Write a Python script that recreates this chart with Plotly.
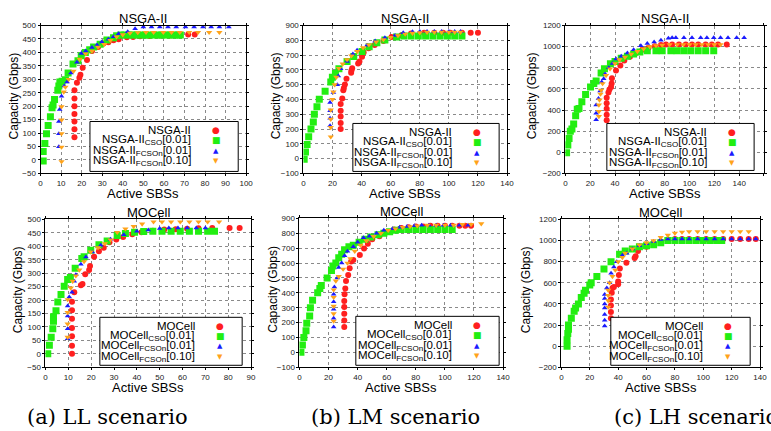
import plotly.graph_objects as go

# ---------------- data ----------------
# (a) LL scenario - NSGA-II
ll_n_red_x = [16.5,16.5,16.5,16.5,16.5,16.5,16.5,17.7,18.9,19.4,20.5,22.6,25,28,30.6,33,35.5,38,42,45,48.4,53,58,63,68,71.8,75]
ll_n_red_y = [84,114,143,171,200,229,259,287,306,317,343,372,405,420,433,438,445,449,456,457,460,461,463,463,465,467,467]
ll_n_grn_x = [1.3,1.3,2.1,2.9,3.7,4.8,5.6,6.1,6.8,8.4,8.9,9.4,10.5,12.1,13.4,15.8,18.2,19.8,21.8,23.9,25.8,29,32.3,35.5,37,39,41,43,45,47,49,51,53,55,57,59,61,63,65,67,68]
ll_n_grn_y = [-4,31,61,97,128,161,194,204,225,259,275,290,293,298,323,357,369,388,400,410,420,430,446,455,462,465,465,465,465,465,465,465,465,465,465,465,465,465,465,465,465]
ll_n_blu_x = [8.9,8.9,8.9,9.3,10.2,11.5,12.9,14.8,17.7,19.8,22,25,27.5,29.8,33,35.5,38,42.4,46,50,54,58,62,66,70.5,74.7,79,83,87,91.6]
ll_n_blu_y = [49,97,143,188,237,275,290,323,363,396,405,418,428,439,449,458,469,477,488,495,495,495,495,495,495,495,495,495,495,495]
ll_n_org_x = [10.2,10.2,10.2,10.2,10.2,11.3,12.1,13.7,16,19,22,25,28,31,34,37,40,43.5,47.3,51.3,55,59.7,63.7,67.7,72.3,76.6,82,87]
ll_n_org_y = [-6,48,98,149,198,253,271,300,330,375,395,405,420,430,445,458,466,472,474,475,475,475,475,475,475,475,475,475]

# (b) LM scenario - NSGA-II
lm_n_red_x = [25.6,25.6,25.6,25.6,25.6,26.7,27.4,27.8,28.5,29.6,32.8,33,33.5,37.6,38.5,40.3,41.4,44.8,49,55,60.6,67.4,74,83,90,96,101,109,115,120]
lm_n_red_y = [200,240,284,324,369,407,462,478,502,540,580,596,611,644,656,689,718,747,769,796,822,835,847,852,852,852,852,852,852,852]
lm_n_grn_x = [0.5,1.4,2.5,3.6,5.2,6.8,7.5,9.3,10.9,14.9,18.8,19.9,22,24.4,30,34.6,40.3,45.2,50.5,56,64,69,74,79,84,89,94,99,104,109]
lm_n_grn_y = [-5,44,96,147,200,247,300,351,402,456,518,551,575,607,656,691,724,756,784,802,822,830,830,830,830,830,830,830,830,830]
lm_n_blu_x = [18.3,18.3,18.3,18.3,20.6,23.3,24,25.6,30,34,36.9,43.7,49.3,56,63,68.6,75,80,85,90,95,100,104,108]
lm_n_blu_y = [222,273,324,380,447,500,558,607,656,707,733,767,796,818,833,851,858,860,860,860,860,860,860,860]
lm_n_org_x = [18.8,18.8,18.8,18.8,19.9,20.6,21.5,22.6,24.4,27,30,33,37,41,45,50,55,60,65,70,75,80,85,90,95,100,104,108]
lm_n_org_y = [147,211,267,329,400,451,500,551,611,640,670,695,725,750,770,790,805,820,832,842,848,852,855,855,855,855,855,855]

# (c) LH scenario - NSGA-II
lh_n_red_x = [33.3,33.3,33.3,33.3,33.3,34.7,35.5,36.8,37.3,37.5,40.8,44.3,47.5,52,57,62,67,72,77,81,86,91.5,97,102,107,113,118,123,130]
lh_n_red_y = [302,355,411,464,516,566,594,619,650,700,775,821,868,905,940,970,990,1005,1015,1020,1020,1020,1020,1020,1020,1020,1020,1020,1020]
lh_n_grn_x = [1,2,3,4,5.3,6.7,8.3,9.6,11,13.3,16.3,20.3,22.9,24.8,28.8,31.5,36.3,40,45,50,55,60,66,73,78,85,90,95.5,101,107,113,119.5]
lh_n_grn_y = [-5,68,131,199,221,268,345,408,415,479,548,619,650,675,750,790,837,860,890,910,930,950,961,961,961,961,961,961,961,961,961,961]
lh_n_blu_x = [24.8,24.8,24.8,26.7,28,29.3,30.9,32,35,38,40.8,45,50,55,60.8,66,71.5,77,83,86,89,95.5,102,109,114,119.5,125,131,138,144]
lh_n_blu_y = [308,370,448,510,580,666,697,740,800,840,884,910,940,970,1008,1030,1045,1060,1080,1085,1085,1085,1085,1085,1085,1085,1085,1085,1085,1085]
lh_n_org_x = [27,27,27,27.5,28.3,28.8,30,32.8,36,40,43.5,48,53,58,63,68,73,78,84,90,95,100,105,110,115,120,125]
lh_n_org_y = [339,386,448,495,551,588,650,728,790,840,877,900,930,955,980,1000,1010,1015,1020,1020,1020,1020,1020,1020,1020,1020,1020]

# (a) LL scenario - MOCell
ll_m_red_x = [11.6,11.6,11.6,11.6,11.6,11.6,11.6,12.6,15.5,16.2,17.4,19.1,19.5,21.3,23.4,25.5,28,31,34,38,42,47,52,57,62,67,73,80.6,85]
ll_m_red_y = [0,30,65,96,130,162,194,229,255,260,296,312,327,361,382,395,415,425,435,445,452,458,462,463,465,467,468,468,468]
ll_m_grn_x = [1,1.7,2.5,3.2,3.5,3.5,4.6,5.4,6.8,8.2,9.7,10.9,13,15.9,16.9,19.8,23.4,27,31.4,35,39,43,47,51,55,59,63,67,71,74]
ll_m_grn_y = [0,32,62,93,121,138,160,193,221,251,276,284,318,355,361,385,406,420,440,448,452,455,456,456,456,456,456,456,456,456]
ll_m_blu_x = [9.7,9.7,9.7,9.7,10.4,11.6,12.6,13.3,15.5,17.7,20.5,24.2,28.5,34.3,40,45,50,54,58,62,66,70]
ll_m_blu_y = [56,93,141,178,211,229,270,294,333,360,379,404,426,443,456,461,466,468,468,468,468,468]
ll_m_org_x = [9.7,9.7,9.7,9.7,11.1,11.9,13.3,14.8,16.9,19.8,23,26,28.5,31.4,35,38.6,42.3,47.3,51,55,59,63,67,71,76]
ll_m_org_y = [62,111,154,202,245,270,290,312,343,379,395,410,424,452,465,474,483,491,491,491,491,491,491,491,491]

# (b) LM scenario - MOCell
lm_m_red_x = [30.8,30.8,30.8,30.8,30.8,31,31.5,32,33.5,34.5,35.5,37,41.5,44.4,47,50,55,60,65,70,75,80,85,90,95,100,105,110,114,118]
lm_m_red_y = [170,215,260,305,345,390,430,480,520,565,610,620,654,698,730,760,780,810,825,835,840,845,845,850,850,850,850,850,850,850]
lm_m_grn_x = [1,2,3,4.5,5,7,7.5,9,12.5,14,15,19,22,23,25,27,29,31,34,37,41,45,49,54,58,62,66,70,75,80,85,90,95,100,105]
lm_m_grn_y = [0,50,100,145,195,245,300,350,400,430,450,500,550,580,600,635,660,690,710,720,740,760,775,790,800,810,820,825,825,825,825,825,825,825,825]
lm_m_blu_x = [23.5,23.5,23.5,23.5,23.5,24,26,27,29,31,33,37,40,44,48,53,58,64,69,74,79,84,89,94,99,104,110,116]
lm_m_blu_y = [170,230,290,340,390,440,500,570,600,650,680,710,740,770,780,800,820,830,840,845,850,855,855,855,855,855,855,855]
lm_m_org_x = [23.5,23.5,23.5,23.5,23.5,25,27,30,33,35,38,42,46,51,56,61,66,71,76,81,88,94,100,106,112,118,125]
lm_m_org_y = [210,260,310,370,420,480,510,560,600,630,680,720,750,780,800,820,830,840,845,850,855,855,855,855,860,860,865]

# (c) LH scenario - MOCell
lh_m_red_x = [34.9,34.9,34.9,34.9,35.5,36,37,40,40,40.5,41.2,45.8,51.6,52.3,54,60,65,70,75,80,85,90,96,102,108,114,120,126,132,137]
lh_m_red_y = [264,323,385,441,506,550,560,587,612,674,736,789,835,851,900,940,970,990,1010,1015,1015,1015,1015,1015,1015,1015,1015,1015,1015,1015]
lh_m_grn_x = [4,4,4.5,5,5,7,9,10,12,14,16,17,20,21,25,30,35,41,45,50,55,60,65,70,75,80,85,90,95,100,105,110,113]
lh_m_grn_y = [0,60,120,160,200,265,330,360,400,460,500,530,580,600,660,730,800,870,900,920,940,950,960,980,1000,1000,1000,1000,1000,1000,1000,1000,1000]
lh_m_blu_x = [30.5,30.5,30.5,30.5,30.5,30.5,30.5,32,34,35,37,39,43,46,50,55,60,65,70,75,80,85,90,96,102,108,114,120,126,132,137]
lh_m_blu_y = [190,245,300,360,400,450,490,550,600,690,750,800,860,880,920,950,970,990,1010,1015,1015,1015,1015,1015,1015,1015,1015,1015,1015,1015,1015]
lh_m_org_x = [33,33,33,33,34,36,38,40,43,45,50,55,60,65,70,75,80,85,90,96,102,108,114,120,126,132]
lh_m_org_y = [370,430,480,530,600,660,720,800,840,880,920,960,980,1000,1030,1050,1070,1080,1085,1085,1085,1085,1085,1085,1085,1085]

titles = ["NSGA-II", "NSGA-II", "NSGA-II", "MOCell", "MOCell", "MOCell"]
captions = ["(a) LL scenario", "(b) LM scenario", "(c) LH scenario"]
x_ranges = [(0, 100, 10), (0, 140, 20), (0, 160, 20), (0, 90, 10), (0, 140, 20), (0, 140, 20)]
y_ranges = [(-50, 500, 50), (-100, 900, 100), (-200, 1200, 200), (-50, 500, 50), (-100, 900, 100), (-200, 1200, 200)]

panel_data = [
    [(ll_n_red_x, ll_n_red_y), (ll_n_grn_x, ll_n_grn_y), (ll_n_blu_x, ll_n_blu_y), (ll_n_org_x, ll_n_org_y)],
    [(lm_n_red_x, lm_n_red_y), (lm_n_grn_x, lm_n_grn_y), (lm_n_blu_x, lm_n_blu_y), (lm_n_org_x, lm_n_org_y)],
    [(lh_n_red_x, lh_n_red_y), (lh_n_grn_x, lh_n_grn_y), (lh_n_blu_x, lh_n_blu_y), (lh_n_org_x, lh_n_org_y)],
    [(ll_m_red_x, ll_m_red_y), (ll_m_grn_x, ll_m_grn_y), (ll_m_blu_x, ll_m_blu_y), (ll_m_org_x, ll_m_org_y)],
    [(lm_m_red_x, lm_m_red_y), (lm_m_grn_x, lm_m_grn_y), (lm_m_blu_x, lm_m_blu_y), (lm_m_org_x, lm_m_org_y)],
    [(lh_m_red_x, lh_m_red_y), (lh_m_grn_x, lh_m_grn_y), (lh_m_blu_x, lh_m_blu_y), (lh_m_org_x, lh_m_org_y)],
]

# ---------------- styling / layout ----------------
W, H = 771, 431
def fx(p):
    return p / W
def fy(p):
    return 1 - p / H

# plot areas in pixels (left, right, top, bottom)
areas = [(39, 247, 22, 173), (305, 511, 22, 173), (570, 771, 22, 173),
         (44, 252, 220, 371), (301, 507, 219, 371), (566, 767, 220, 371)]
ytitle_off = [27, 28, 34, 27, 27, 35]
legend_boxes = [(89, 239, 120, 171), (355, 503, 122, 171), (612, 761, 122, 170),
                (99, 243, 320, 369), (358, 503, 319, 369), (616, 757, 320, 369)]

colors = ["#ff1f1f", "#22ee11", "#1a1aff", "#ffa31a"]
symbols = ["circle", "square", "triangle-up", "triangle-down"]
sizes = [6, 7, 5, 5.5]
glyphs = ["●", "■", "▲", "▼"]
glyph_sizes = [9, 9, 7, 7]

SANS = "Liberation Sans, Arial, sans-serif"

fig = go.Figure()
layout = dict(width=W, height=H, margin=dict(l=0, r=0, t=0, b=0), autosize=False,
              paper_bgcolor="white", plot_bgcolor="white", showlegend=False)
annotations = []
shapes = []

for i in range(6):
    sfx = "" if i == 0 else str(i + 1)
    l, r, t, b = areas[i]
    x0, x1, xd = x_ranges[i]
    y0, y1, yd = y_ranges[i]
    common = dict(showline=True, linecolor="black", linewidth=1, mirror="allticks",
                  ticks="outside", ticklen=2, tickcolor="black", tickwidth=0.8,
                  showgrid=True, gridcolor="#8a8a8a", gridwidth=0.7, griddash="3px,3px",
                  zeroline=False, tickfont=dict(family=SANS, size=8, color="#222"))
    layout["xaxis" + sfx] = dict(common, domain=[fx(l), fx(r)], range=[x0, x1], dtick=xd, tick0=0,
                                 anchor="y" + sfx)
    layout["yaxis" + sfx] = dict(common, domain=[fy(b), fy(t)], range=[y0, y1], dtick=yd, tick0=0,
                                 anchor="x" + sfx)
    name = titles[i]
    labels = [name, name + "<sub>CSO</sub>[0.01]", name + "<sub>FCSOn</sub>[0.01]",
              name + "<sub>FCSOn</sub>[0.10]"]
    for k, (xs, ys) in enumerate(panel_data[i]):
        fig.add_trace(go.Scatter(x=xs, y=ys, mode="markers", name=labels[k],
                                 xaxis="x" + sfx, yaxis="y" + sfx, cliponaxis=True,
                                 marker=dict(symbol=symbols[k], size=sizes[k], color=colors[k],
                                             line=dict(width=0))))
    # title
    annotations.append(dict(text=name, x=fx((l + r) / 2), y=fy(t - 7.5), xref="paper", yref="paper",
                            showarrow=False, xanchor="center", yanchor="middle",
                            font=dict(family=SANS, size=13, color="black")))
    # axis titles
    annotations.append(dict(text="Active SBSs", x=fx((l + r) / 2), y=fy(b + 21), xref="paper",
                            yref="paper", showarrow=False, xanchor="center", yanchor="middle",
                            font=dict(family=SANS, size=13, color="black")))
    annotations.append(dict(text="Capacity (Gbps)", x=fx(l - ytitle_off[i]), y=fy((t + b) / 2 - 4),
                            xref="paper", yref="paper", showarrow=False, textangle=-90,
                            xanchor="center", yanchor="middle",
                            font=dict(family=SANS, size=12, color="black")))
    # legend box
    bl, br, bt, bb = legend_boxes[i]
    shapes.append(dict(type="rect", xref="paper", yref="paper", x0=fx(bl), x1=fx(br),
                       y0=fy(bb), y1=fy(bt), line=dict(color="black", width=1),
                       fillcolor="white", layer="above"))
    for k in range(4):
        rowy = bt + 9 + 10.4 * k
        annotations.append(dict(text=labels[k], x=fx(br - 46), y=fy(rowy), xref="paper",
                                yref="paper", showarrow=False, xanchor="right", yanchor="middle",
                                font=dict(family=SANS, size=11.5, color="black")))
        annotations.append(dict(text=glyphs[k], x=fx(br - 22), y=fy(rowy), xref="paper",
                                yref="paper", showarrow=False, xanchor="center", yanchor="middle",
                                font=dict(family="DejaVu Sans", size=glyph_sizes[k], color=colors[k])))

# captions
cap_pos = [(107, "center"), (398, "center"), (617, "left")]
for j, cap in enumerate(captions):
    cx, anc = cap_pos[j]
    annotations.append(dict(text=cap, x=fx(cx), y=fy(422), xref="paper", yref="paper",
                            showarrow=False, xanchor=anc, yanchor="middle",
                            font=dict(family="DejaVu Serif", size=21, color="black")))

layout["annotations"] = annotations
layout["shapes"] = shapes
fig.update_layout(**layout)
fig.write_html("out.html", config={"displayModeBar": False},
               post_script="document.body.style.margin='0';document.body.style.overflow='hidden';")
